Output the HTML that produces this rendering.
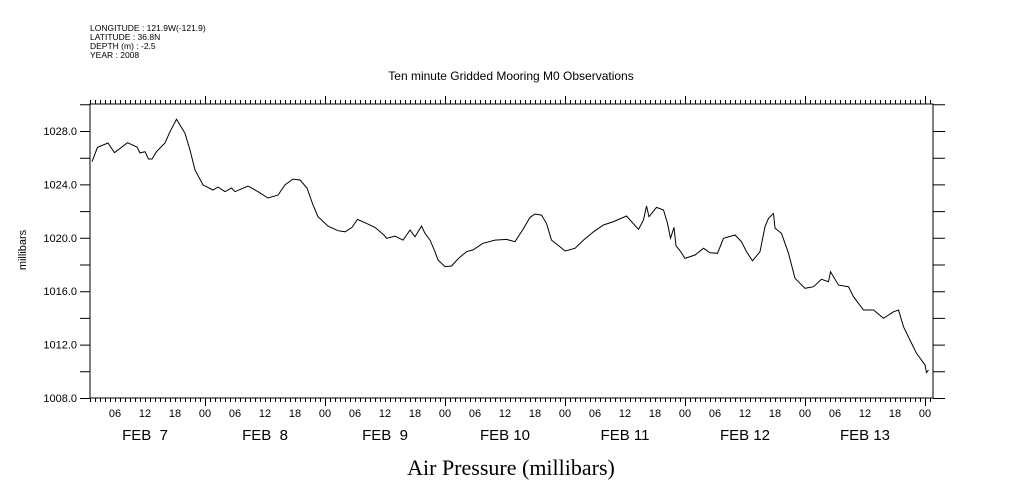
<!DOCTYPE html>
<html><head><meta charset="utf-8"><style>
body{margin:0;background:#fff;}
svg{display:block;font-family:"Liberation Sans",sans-serif;}
.pre{white-space:pre;}
</style></head><body>
<svg id="chart" width="1009" height="504" viewBox="0 0 1009 504">
<g font-size="8.5" fill="#000">
<text x="90" y="31">LONGITUDE : 121.9W(-121.9)</text>
<text x="90" y="40">LATITUDE : 36.8N</text>
<text x="90" y="49">DEPTH (m) : -2.5</text>
<text x="90" y="58">YEAR : 2008</text>
</g>
<text x="511" y="80" font-size="12" text-anchor="middle">Ten minute Gridded Mooring M0 Observations</text>
<text transform="translate(26,250) rotate(-90)" font-size="11" text-anchor="middle">millibars</text>
<text x="511" y="475" font-size="22" text-anchor="middle" font-family="Liberation Serif, serif">Air Pressure (millibars)</text>
<g id="axes"></g>
<path id="line" fill="none" stroke="#000" stroke-width="1"/>
</svg>
<script>
const hours=[1.4,2.5,4.6,5.9,8.5,10.4,11,12,12.7,13.4,14.3,16,17,18.3,20,21,22,23.6,25.6,26.6,28,29.3,30,32.6,34.6,36.6,38.6,40,41.6,43,44.4,45.6,46.6,48.6,50.6,52,53.4,54.5,56,58,59.8,60.3,62,63.6,65,66,67.3,68,69,70,70.6,72,73.3,74.7,76.3,77.6,79.6,82,84.3,86,87.6,89,90,91.3,92.3,93.3,95,96,98,99.7,101.7,103.7,105.7,108.3,110.7,111.7,112.3,112.8,114.3,115.7,116.5,117.1,117.8,118.2,118.9,120,122,123.7,125,126.5,127.7,130,131.3,132.3,133.5,135,136,136.7,137.7,138,139.3,140.7,142,144,145.7,147.3,148.7,149.1,150.7,152.7,153.7,155.7,157.7,159.7,161.7,162.7,163.7,165,166.3,168,168.3,168.7];
const pressure=[1025.7,1026.78,1027.1,1026.38,1027.12,1026.8,1026.35,1026.45,1025.9,1025.9,1026.45,1027.1,1027.95,1028.88,1027.83,1026.58,1025.08,1023.96,1023.58,1023.8,1023.45,1023.73,1023.45,1023.88,1023.45,1022.98,1023.2,1023.96,1024.4,1024.33,1023.73,1022.46,1021.58,1020.88,1020.53,1020.45,1020.78,1021.38,1021.13,1020.78,1020.2,1019.96,1020.13,1019.83,1020.58,1020.08,1020.88,1020.33,1019.83,1018.96,1018.34,1017.84,1017.89,1018.46,1018.96,1019.09,1019.59,1019.83,1019.88,1019.71,1020.63,1021.53,1021.78,1021.7,1021.08,1019.83,1019.33,1019.01,1019.21,1019.83,1020.45,1020.96,1021.21,1021.63,1020.63,1021.33,1022.38,1021.58,1022.28,1022.08,1021.08,1019.96,1020.78,1019.39,1019.09,1018.46,1018.71,1019.21,1018.88,1018.84,1019.96,1020.21,1019.71,1018.96,1018.28,1018.96,1020.83,1021.46,1021.83,1020.73,1020.33,1018.84,1016.97,1016.22,1016.34,1016.89,1016.71,1017.46,1016.46,1016.34,1015.59,1014.59,1014.59,1013.97,1014.46,1014.59,1013.34,1012.34,1011.35,1010.47,1009.9,1010.1];
const yTicks=[1008,1012,1016,1020,1024,1028];
const yTickLabels=["1008.0","1012.0","1016.0","1020.0","1024.0","1028.0"];
const hourLabels=["06","12","18","00"];
const dayLabels=["FEB  7","FEB  8","FEB  9","FEB 10","FEB 11","FEB 12","FEB 13"];
const L=90,R=933,T=104,B=398;
const xs=h=>85+h*5;
const ys=v=>398-(v-1008)*13.35;
const NS="http://www.w3.org/2000/svg";
const ax=document.getElementById('axes');
function add(tag,attrs,txt){const e=document.createElementNS(NS,tag);for(const k in attrs)e.setAttribute(k,attrs[k]);if(txt!==undefined)e.textContent=txt;ax.appendChild(e);return e;}
let frame=add('rect',{x:L,y:T,width:R-L,height:B-T,fill:'none',stroke:'#000','stroke-width':1});


let tp='';
for(let h=1;h<=169;h++){const x=xs(h)+0.5;const big=h%24===0;tp+=`M${x},${B}V${B+(big?8:4)}M${x},${T}V${T-(big?8:4)}`;}
for(let v=1008;v<=1030;v+=2){const y=ys(v)+0.5;tp+=`M${L-10},${y}H${L}M${R},${y}H${R+12}`;}
let ticks=add('path',{d:tp,stroke:'#000','stroke-width':1,fill:'none'});


yTicks.forEach((v,i)=>{let t=add('text',{x:L-13,y:ys(v)+4,'font-size':11,'text-anchor':'end'},yTickLabels[i]);

});
for(let d=0;d<7;d++){for(let k=0;k<4;k++){const h=d*24+(k+1)*6;let t=add('text',{x:xs(h),y:417,'font-size':11,'text-anchor':'middle'},hourLabels[k]);

}
let dl=add('text',{x:xs(d*24+12),y:440,'font-size':15,'text-anchor':'middle','class':'pre'},dayLabels[d]);

}
document.getElementById('line').setAttribute('d',hours.map((h,i)=>(i?'L':'M')+xs(h).toFixed(1)+','+ys(pressure[i]).toFixed(1)).join(''));
</script>
</body></html>
